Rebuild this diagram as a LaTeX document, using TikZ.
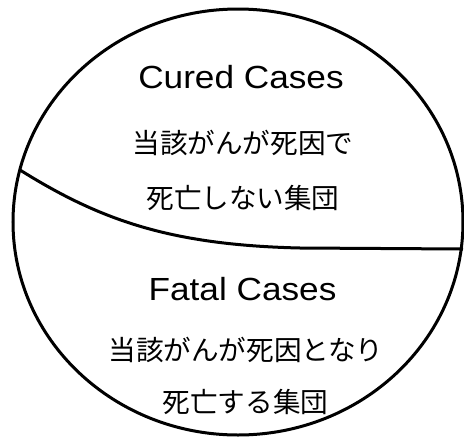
\documentclass[tikz,border=0pt]{standalone}
\usepackage{fontspec}
\usepackage{graphicx}
\setmainfont{Noto Sans CJK JP}
\newfontfamily\latinfont{Liberation Sans}
\tikzset{
  outline/.style={draw=black, line width=3pt},
  divider/.style={draw=black, line width=3pt},
  entxt/.style={inner sep=0pt, anchor=base, font=\latinfont\fontsize{32}{36}\selectfont},
  jptxt/.style={inner sep=0pt, anchor=base, font=\fontsize{27.6}{32}\selectfont},
}
\begin{document}
\begin{tikzpicture}[x=1pt,y=-1pt]
\useasboundingbox (0,0) rectangle (464,440);
\begin{scope}
\clip (0,0) rectangle (464,440);
\draw[outline] (238,222) ellipse [x radius=225, y radius=213];
\coordinate (L) at (20,170);
\coordinate (M) at (300,248);
\coordinate (R) at (463,249);
\draw[divider] (L) .. controls (100,220) and (170,245) .. (M) -- (R);
\end{scope}
\node[entxt] (cured) at (241,88) {\scalebox{1.1}[1]{Cured Cases}};
\node[jptxt] (c1) at (243,153) {当該がんが死因で};
\node[jptxt] (c2) at (243,208) {死亡しない集団};
\node[entxt] (fatal) at (242.5,300) {\scalebox{1.1}[1]{Fatal Cases}};
\node[jptxt] (f1) at (246,360) {当該がんが死因となり};
\node[jptxt] (f2) at (245.5,412) {死亡する集団};
\end{tikzpicture}
\end{document}
